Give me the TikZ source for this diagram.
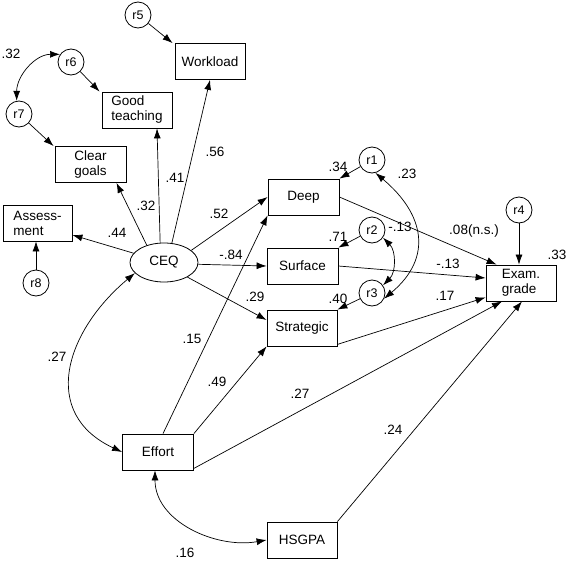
\documentclass[tikz,border=0pt]{standalone}
\usepackage{fontspec}
\setmainfont{Liberation Sans}
\usetikzlibrary{arrows.meta,shapes.geometric}
\begin{document}
\begin{tikzpicture}[x=1pt,y=1pt,
  every node/.style={font=\fontsize{13.5}{15}\selectfont},
  box/.style={draw, line width=0.8pt, minimum width=70pt, minimum height=36pt, inner sep=1pt, align=left},
  res/.style={draw, circle, line width=0.8pt, minimum size=26pt, inner sep=0pt, font=\fontsize{12.5}{14}\selectfont},
  lat/.style={draw, ellipse, line width=0.8pt, minimum width=68pt, minimum height=39pt, inner sep=0pt},
  lab/.style={inner sep=0pt},
  arr/.style={line width=0.7pt, -{Latex[length=10pt,width=7pt]}},
  arrb/.style={line width=0.7pt, {Latex[length=10pt,width=7pt]}-{Latex[length=10pt,width=7pt]}}
]
\useasboundingbox (0,0) rectangle (568,-562);
% nodes
\node[res] (r5) at (138,-15) {r5};
\node[box] (work) at (210,-61.5) {Workload};
\node[res] (r6) at (71,-62) {r6};
\node[box] (good) at (137,-110) {Good\\teaching};
\node[res] (r7) at (19,-114) {r7};
\node[box, minimum width=71pt] (clear) at (90.5,-164.5) {Clear\\goals};
\node[box, minimum width=69pt] (assess) at (37.5,-223) {Assess-\\ment};
\node[res] (r8) at (36,-283) {r8};
\node[lat] (ceq) at (164,-262.5) {CEQ};
\node[box, minimum width=71pt] (deep) at (303.5,-197) {Deep};
\node[box, minimum width=71pt] (surf) at (302.5,-266) {Surface};
\node[box] (strat) at (302,-328) {Strategic};
\node[res] (r1) at (372,-160) {r1};
\node[res] (r2) at (372,-230) {r2};
\node[res] (r3) at (372,-293) {r3};
\node[res] (r4) at (519,-210) {r4};
\node[box] (exam) at (521,-283) {Exam.\\grade};
\node[box, minimum width=71pt] (effort) at (158,-452) {Effort};
\node[box] (hsgpa) at (302,-540) {HSGPA};
% residual arrows
\draw[arr] (r5) -- ([xshift=-2pt]work.north west);
\draw[arr] (r6) -- ([xshift=-2pt]good.north west);
\draw[arr] (r7) -- ([xshift=-1pt]clear.north west);
\draw[arr] (r8) -- (r8 |- assess.south);
\draw[arr] (r1) -- (deep.north east);
\draw[arr] (r2) -- (surf.north east);
\draw[arr] (r3) -- (strat.north east);
\draw[arr] (r4) -- (r4 |- exam.north);
% correlations
\draw[arrb] (r6.145) to[out=180,in=90] (r7.100);
\draw[arrb] (ceq.200) to[out=220,in=155,looseness=1.3] (effort.west);
\draw[arrb] ([xshift=-3pt]effort.south) to[out=-90,in=190] (hsgpa.west);
\draw[arrb] (r1.-75) to[out=-40,in=40,looseness=1.3] (r3.-25);
\draw[arrb] (r2.-35) to[out=-45,in=45] (r3.35);
% CEQ paths
\draw[arr] (ceq.163) -- ([yshift=-12pt]assess.east);
\draw[arr] (ceq.135) -- ([xshift=26pt]clear.south);
\draw[arr] (ceq.101) -- ([xshift=20pt]good.south);
\draw[arr] (ceq.68) -- (work.south);
\draw[arr] (ceq.24) -- (deep.west);
\draw[arr] (ceq.-3) -- (surf.west);
\draw[arr] (ceq.-32) -- ([yshift=8pt]strat.west);
% Effort paths
\draw[arr] ([xshift=5pt]effort.north) -- (deep.south west);
\draw[arr] (effort.north east) -- (strat.south west);
\draw[arr] ([yshift=2pt]effort.south east) -- ([xshift=-19pt]exam.south);
\draw[arr] (hsgpa.north east) -- ([xshift=1pt]exam.south);
% to Exam
\draw[arr] (deep.east) -- ([xshift=11pt]exam.north west);
\draw[arr] (surf.east) -- ([yshift=5pt]exam.west);
\draw[arr] ([yshift=2pt]strat.south east) -- ([yshift=4pt]exam.south west);
% labels
\node[lab] (l56) at (215,-152) {.56};
\node[lab] (l41) at (175,-178) {.41};
\node[lab] (l32b) at (146,-206) {.32};
\node[lab] (l44) at (117,-233) {.44};
\node[lab] (l52) at (219,-214) {.52};
\node[lab] (l84) at (231,-255) {-.84};
\node[lab] (l29) at (255,-297) {.29};
\node[lab] (l32a) at (11,-54) {.32};
\node[lab] (l34) at (338,-167) {.34};
\node[lab] (l23) at (407,-174) {.23};
\node[lab] (l71) at (338,-237) {.71};
\node[lab] (l13a) at (400,-227) {-.13};
\node[lab] (l08) at (474,-231) {.08(n.s.)};
\node[lab] (l13b) at (448,-264) {-.13};
\node[lab] (l33) at (557,-255) {.33};
\node[lab] (l40) at (338,-299) {.40};
\node[lab] (l17) at (445,-296) {.17};
\node[lab] (l27a) at (57,-357) {.27};
\node[lab] (l15) at (192,-339) {.15};
\node[lab] (l49) at (217,-382) {.49};
\node[lab] (l27b) at (300,-394) {.27};
\node[lab] (l24) at (393,-430) {.24};
\node[lab] (l16) at (185,-553) {.16};
\end{tikzpicture}
\end{document}
